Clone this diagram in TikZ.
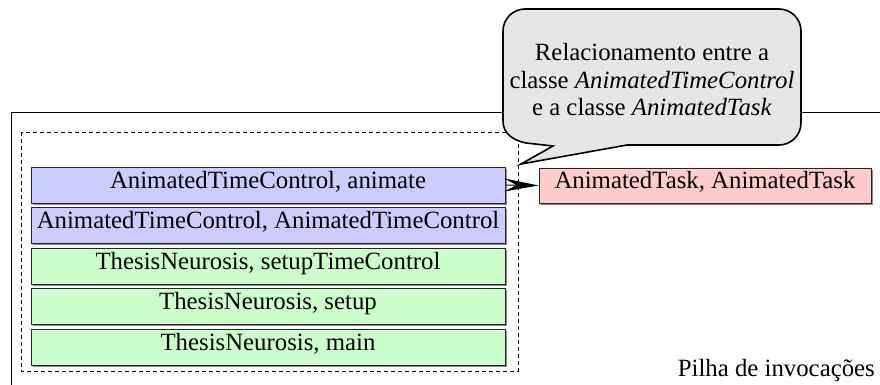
\documentclass[tikz,border=0pt]{standalone}
\usepackage{fontspec}
\setmainfont{Liberation Serif}
\usetikzlibrary{arrows.meta,shadows}
\definecolor{stackblue}{HTML}{CCCCFF}
\definecolor{stackgreen}{HTML}{CCFFCC}
\definecolor{taskred}{HTML}{FFCCCC}
\definecolor{bubblegray}{HTML}{E6E6E6}
\begin{document}
\begin{tikzpicture}[x=1pt,y=-1pt,
  bigfont/.style={font=\fontsize{24.8}{27.5}\selectfont},
  framebox/.style={bigfont, draw=black!85, line width=1pt, minimum width=474pt,
    minimum height=36pt, inner sep=0pt, text height=0.66em, text depth=0pt,
    drop shadow={shadow xshift=1.5pt, shadow yshift=-1.5pt, fill=black, opacity=0.45}},
  bluebox/.style={framebox, fill=stackblue},
  greenbox/.style={framebox, fill=stackgreen},
  redbox/.style={framebox, fill=taskred, minimum width=332pt, minimum height=35pt},
  bubble/.style={draw=black, line width=1.6pt, fill=bubblegray, line join=miter},
  conn/.style={draw=black, line width=1pt, -{Stealth[length=34pt, width=13pt, inset=12pt]}}
]
\useasboundingbox (0,0) rectangle (880,385);
\clip (0,0) rectangle (880,385);
% outer (cut-off) frame
\draw[line width=1pt] (11,400) -- (11,113) -- (900,113);
% dashed group
\draw[line width=1pt, dash pattern=on 4pt off 3pt] (21,132) rectangle (518,371);
% stack of calls
\node[bluebox] (b1) at (268,185) {AnimatedTimeControl, animate};
\node[bluebox] (b2) at (268,225.5) {AnimatedTimeControl, AnimatedTimeControl};
\node[greenbox] (b3) at (268,266) {ThesisNeurosis, setupTimeControl};
\node[greenbox] (b4) at (268,306.5) {ThesisNeurosis, setup};
\node[greenbox] (b5) at (268,347) {ThesisNeurosis, main};
% target
\node[redbox] (task) at (705,185.5) {AnimatedTask, AnimatedTask};
\draw[conn] (b1.east) -- (task.west);
% callout
\draw[bubble] (553,146) -- (521,164) -- (627,145) -- (779,145)
  .. controls (791.1,145) and (801,135.1) .. (801,123) -- (801,31)
  .. controls (801,18.9) and (791.1,9) .. (779,9) -- (525,9)
  .. controls (512.9,9) and (503,18.9) .. (503,31) -- (503,121)
  .. controls (503,133) and (512,140) .. (526,143) -- cycle;
\node[bigfont, align=center, inner sep=0pt] (note) at (652,80)
  {Relacionamento entre a\\ classe \textit{AnimatedTimeControl}\\ e a classe \textit{AnimatedTask}};
% caption
\node[bigfont, anchor=base east, inner sep=0pt] (caption) at (875,376) {Pilha de invocações};
\end{tikzpicture}
\end{document}
